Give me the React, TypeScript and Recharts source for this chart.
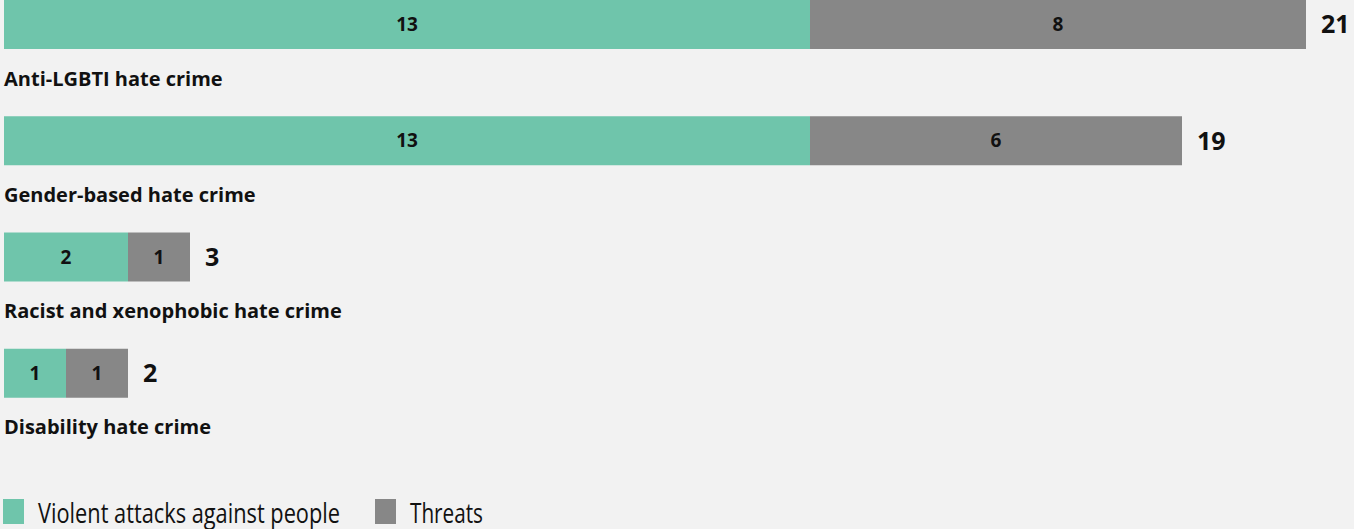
import React from "react";
import { BarChart, Bar, XAxis, YAxis, LabelList, Legend } from "recharts";

const categories = [
  "Anti-LGBTI hate crime",
  "Gender-based hate crime",
  "Racist and xenophobic hate crime",
  "Disability hate crime",
];
const violentAttacks = [13, 13, 2, 1];
const threats = [8, 6, 1, 1];
const totals = [21, 19, 3, 2];
const seriesNames = ["Violent attacks against people", "Threats"];

const GREEN = "#6fc5ab";
const GREY = "#878787";
const FONT = "'Open Sans', 'Noto Sans', sans-serif";

const data = categories.map((name, i) => ({
  name,
  violent: violentAttacks[i],
  threats: threats[i],
  total: totals[i],
}));

const CategoryLabel = (props: any) => {
  const { x, y, height, value } = props;
  return (
    <text
      x={x}
      y={y + height / 2 + 61}
      textAnchor="start"
      fontFamily={FONT}
      fontWeight={700}
      fontSize={20}
      fill="#111"
    >
      {value}
    </text>
  );
};

const LegendContent = () => (
  <svg width={520} height={30} style={{ display: "block" }}>
    <rect x={3} y={0} width={21} height={25} fill={GREEN} />
    <text x={38} y={24} fontFamily={FONT} fontSize={28} fill="#111" textLength={302} lengthAdjust="spacingAndGlyphs">
      {seriesNames[0]}
    </text>
    <rect x={375} y={0} width={21} height={25} fill={GREY} />
    <text x={410} y={24} fontFamily={FONT} fontSize={28} fill="#111" textLength={73} lengthAdjust="spacingAndGlyphs">
      {seriesNames[1]}
    </text>
  </svg>
);

export default function App() {
  return (
    <div
      style={{
        position: "absolute",
        left: 0,
        top: 0,
        width: 1354,
        height: 529,
        background: "#f2f2f2",
        overflow: "hidden",
      }}
    >
      <div style={{ position: "absolute", left: 0, top: -34 }}>
        <BarChart
          width={1354}
          height={563}
          data={data}
          layout="vertical"
          margin={{ top: 0, right: 48, bottom: 98, left: 4 }}
          barSize={49}
        >
          <XAxis type="number" domain={[0, 21]} hide />
          <YAxis type="category" dataKey="name" hide />
          <Legend
            layout="horizontal"
            verticalAlign="middle"
            content={<LegendContent />}
            wrapperStyle={{ position: "absolute", left: 0, top: 533, width: 520, height: 30 }}
          />
          <Bar dataKey="violent" stackId="a" fill={GREEN} isAnimationActive={false} name={seriesNames[0]}>
            <LabelList
              dataKey="violent"
              position="center"
              fill="#111"
              fontFamily={FONT}
              fontWeight={700}
              fontSize={19}
            />
            <LabelList dataKey="name" content={<CategoryLabel />} />
          </Bar>
          <Bar dataKey="threats" stackId="a" fill={GREY} isAnimationActive={false} name={seriesNames[1]}>
            <LabelList
              dataKey="threats"
              position="center"
              fill="#111"
              fontFamily={FONT}
              fontWeight={700}
              fontSize={19}
            />
            <LabelList
              dataKey="total"
              position="right"
              offset={15}
              fill="#111"
              fontFamily={FONT}
              fontWeight={700}
              fontSize={25}
            />
          </Bar>
        </BarChart>
      </div>
    </div>
  );
}
